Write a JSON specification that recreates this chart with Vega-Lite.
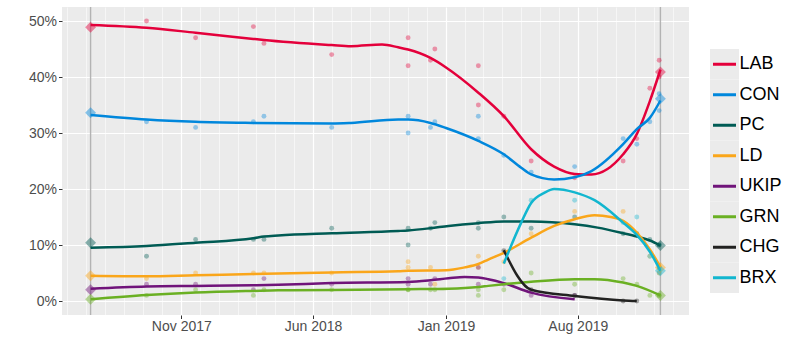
{
  "$schema": "https://vega.github.io/schema/vega-lite/v6.json",
  "autosize": {"type": "pad"},
  "padding": {"left": 28, "top": 6, "right": 5, "bottom": 20},
  "background": "white",
  "spacing": 21,
  "bounds": "flush",
  "config": {"font": "Liberation Sans", "view": {"stroke": null}},
  "datasets": {
    "parties": [{"party":"LAB"},{"party":"CON"},{"party":"PC"},{"party":"LD"},{"party":"UKIP"},{"party":"GRN"},{"party":"CHG"},{"party":"BRX"}],
    "elections": [{"date":"2017-06-08"},{"date":"2019-12-12"}],
    "results": [
      {"date":"2017-06-08","party":"LAB","value":48.9},{"date":"2017-06-08","party":"CON","value":33.6},{"date":"2017-06-08","party":"PC","value":10.4},{"date":"2017-06-08","party":"LD","value":4.5},{"date":"2017-06-08","party":"UKIP","value":2.0},{"date":"2017-06-08","party":"GRN","value":0.3},
      {"date":"2019-12-12","party":"LAB","value":40.9},{"date":"2019-12-12","party":"CON","value":36.1},{"date":"2019-12-12","party":"PC","value":9.9},{"date":"2019-12-12","party":"LD","value":6.0},{"date":"2019-12-12","party":"BRX","value":5.4},{"date":"2019-12-12","party":"GRN","value":1.0}
    ],
    "polls": [
      {"date":"2017-09-06","party":"LAB","value":50},{"date":"2017-09-06","party":"CON","value":32},{"date":"2017-09-06","party":"PC","value":8},{"date":"2017-09-06","party":"LD","value":4},{"date":"2017-09-06","party":"UKIP","value":3},{"date":"2017-09-06","party":"GRN","value":1},
      {"date":"2017-11-24","party":"LAB","value":47},{"date":"2017-11-24","party":"CON","value":31},{"date":"2017-11-24","party":"PC","value":11},{"date":"2017-11-24","party":"LD","value":5},{"date":"2017-11-24","party":"UKIP","value":3},{"date":"2017-11-24","party":"GRN","value":2},
      {"date":"2018-02-25","party":"LAB","value":49},{"date":"2018-02-25","party":"CON","value":32},{"date":"2018-02-25","party":"PC","value":11},{"date":"2018-02-25","party":"LD","value":5},{"date":"2018-02-25","party":"UKIP","value":2},{"date":"2018-02-25","party":"GRN","value":1},
      {"date":"2018-03-14","party":"LAB","value":46},{"date":"2018-03-14","party":"CON","value":33},{"date":"2018-03-14","party":"PC","value":11},{"date":"2018-03-14","party":"LD","value":5},{"date":"2018-03-14","party":"UKIP","value":4},{"date":"2018-03-14","party":"GRN","value":2},
      {"date":"2018-07-01","party":"LAB","value":44},{"date":"2018-07-01","party":"CON","value":31},{"date":"2018-07-01","party":"PC","value":13},{"date":"2018-07-01","party":"LD","value":5},{"date":"2018-07-01","party":"UKIP","value":3},{"date":"2018-07-01","party":"GRN","value":2},
      {"date":"2018-11-01","party":"LAB","value":47},{"date":"2018-11-01","party":"CON","value":33},{"date":"2018-11-01","party":"PC","value":13},{"date":"2018-11-01","party":"LD","value":7},{"date":"2018-11-01","party":"UKIP","value":4},{"date":"2018-11-01","party":"GRN","value":2},
      {"date":"2018-11-01","party":"LAB","value":42},{"date":"2018-11-01","party":"CON","value":30},{"date":"2018-11-01","party":"PC","value":10},{"date":"2018-11-01","party":"LD","value":6},{"date":"2018-11-01","party":"UKIP","value":3},{"date":"2018-11-01","party":"GRN","value":2},
      {"date":"2018-12-07","party":"LAB","value":43},{"date":"2018-12-07","party":"CON","value":31},{"date":"2018-12-07","party":"PC","value":13},{"date":"2018-12-07","party":"LD","value":6},{"date":"2018-12-07","party":"UKIP","value":3},{"date":"2018-12-07","party":"GRN","value":2},
      {"date":"2018-12-14","party":"LAB","value":45},{"date":"2018-12-14","party":"CON","value":32},{"date":"2018-12-14","party":"PC","value":14},{"date":"2018-12-14","party":"LD","value":3},{"date":"2018-12-14","party":"UKIP","value":4},{"date":"2018-12-14","party":"GRN","value":2},
      {"date":"2019-02-22","party":"LAB","value":42},{"date":"2019-02-22","party":"CON","value":33},{"date":"2019-02-22","party":"PC","value":14},{"date":"2019-02-22","party":"LD","value":8},{"date":"2019-02-22","party":"UKIP","value":3},{"date":"2019-02-22","party":"GRN","value":1},
      {"date":"2019-02-22","party":"LAB","value":35},{"date":"2019-02-22","party":"CON","value":29},{"date":"2019-02-22","party":"PC","value":13},{"date":"2019-02-22","party":"LD","value":6},{"date":"2019-02-22","party":"UKIP","value":6},{"date":"2019-02-22","party":"GRN","value":2},
      {"date":"2019-04-04","party":"LAB","value":33},{"date":"2019-04-04","party":"CON","value":26},{"date":"2019-04-04","party":"PC","value":15},{"date":"2019-04-04","party":"LD","value":7},{"date":"2019-04-04","party":"UKIP","value":3},{"date":"2019-04-04","party":"GRN","value":2},{"date":"2019-04-04","party":"CHG","value":9},{"date":"2019-04-04","party":"BRX","value":4},
      {"date":"2019-05-18","party":"LAB","value":25},{"date":"2019-05-18","party":"CON","value":23},{"date":"2019-05-18","party":"PC","value":13},{"date":"2019-05-18","party":"LD","value":12},{"date":"2019-05-18","party":"UKIP","value":1},{"date":"2019-05-18","party":"GRN","value":5},{"date":"2019-05-18","party":"CHG","value":2},{"date":"2019-05-18","party":"BRX","value":18},
      {"date":"2019-07-27","party":"LAB","value":22},{"date":"2019-07-27","party":"CON","value":24},{"date":"2019-07-27","party":"PC","value":15},{"date":"2019-07-27","party":"LD","value":16},{"date":"2019-07-27","party":"UKIP","value":1},{"date":"2019-07-27","party":"GRN","value":3},{"date":"2019-07-27","party":"CHG","value":1},{"date":"2019-07-27","party":"BRX","value":18},
      {"date":"2019-10-13","party":"LAB","value":25},{"date":"2019-10-13","party":"CON","value":29},{"date":"2019-10-13","party":"PC","value":12},{"date":"2019-10-13","party":"LD","value":16},{"date":"2019-10-13","party":"GRN","value":4},{"date":"2019-10-13","party":"CHG","value":0},{"date":"2019-10-13","party":"BRX","value":14},
      {"date":"2019-11-04","party":"LAB","value":29},{"date":"2019-11-04","party":"CON","value":28},{"date":"2019-11-04","party":"PC","value":12},{"date":"2019-11-04","party":"LD","value":12},{"date":"2019-11-04","party":"GRN","value":3},{"date":"2019-11-04","party":"CHG","value":0},{"date":"2019-11-04","party":"BRX","value":15},
      {"date":"2019-11-25","party":"LAB","value":38},{"date":"2019-11-25","party":"CON","value":32},{"date":"2019-11-25","party":"PC","value":11},{"date":"2019-11-25","party":"LD","value":8},{"date":"2019-11-25","party":"GRN","value":1},{"date":"2019-11-25","party":"BRX","value":8},
      {"date":"2019-12-10","party":"LAB","value":43},{"date":"2019-12-10","party":"CON","value":34},{"date":"2019-12-10","party":"PC","value":10},{"date":"2019-12-10","party":"LD","value":6},{"date":"2019-12-10","party":"GRN","value":1},{"date":"2019-12-10","party":"BRX","value":5},
      {"date":"2019-12-10","party":"LAB","value":40},{"date":"2019-12-10","party":"CON","value":37},{"date":"2019-12-10","party":"PC","value":10},{"date":"2019-12-10","party":"LD","value":5},{"date":"2019-12-10","party":"GRN","value":1},{"date":"2019-12-10","party":"BRX","value":6}
    ],
    "trends": [
      {"party":"LAB","date":"2017-06-08","value":49.3},{"party":"LAB","date":"2017-09-06","value":48.8},{"party":"LAB","date":"2017-11-24","value":47.9},{"party":"LAB","date":"2018-02-25","value":46.8},{"party":"LAB","date":"2018-03-14","value":46.6},{"party":"LAB","date":"2018-07-01","value":45.7},{"party":"LAB","date":"2018-08-01","value":45.5},{"party":"LAB","date":"2018-09-20","value":45.8},{"party":"LAB","date":"2018-10-16","value":45.3},{"party":"LAB","date":"2018-11-01","value":44.9},{"party":"LAB","date":"2018-12-07","value":43.4},{"party":"LAB","date":"2019-01-01","value":41.7},{"party":"LAB","date":"2019-02-22","value":37.2},{"party":"LAB","date":"2019-04-04","value":33.0},{"party":"LAB","date":"2019-05-18","value":27.1},{"party":"LAB","date":"2019-06-24","value":24.0},{"party":"LAB","date":"2019-07-27","value":22.7},{"party":"LAB","date":"2019-08-23","value":22.6},{"party":"LAB","date":"2019-10-13","value":26.2},{"party":"LAB","date":"2019-11-04","value":29.8},{"party":"LAB","date":"2019-11-25","value":35.7},{"party":"LAB","date":"2019-12-12","value":41.3},
      {"party":"CON","date":"2017-06-08","value":33.2},{"party":"CON","date":"2017-09-06","value":32.4},{"party":"CON","date":"2017-11-24","value":32.0},{"party":"CON","date":"2018-02-25","value":31.8},{"party":"CON","date":"2018-07-01","value":31.7},{"party":"CON","date":"2018-08-01","value":31.8},{"party":"CON","date":"2018-10-16","value":32.4},{"party":"CON","date":"2018-11-01","value":32.4},{"party":"CON","date":"2018-12-07","value":31.8},{"party":"CON","date":"2019-01-01","value":30.9},{"party":"CON","date":"2019-02-22","value":28.6},{"party":"CON","date":"2019-04-04","value":26.2},{"party":"CON","date":"2019-05-02","value":23.8},{"party":"CON","date":"2019-05-18","value":22.6},{"party":"CON","date":"2019-06-24","value":21.7},{"party":"CON","date":"2019-07-27","value":22.1},{"party":"CON","date":"2019-08-23","value":23.2},{"party":"CON","date":"2019-10-13","value":28.0},{"party":"CON","date":"2019-11-04","value":30.7},{"party":"CON","date":"2019-11-25","value":32.7},{"party":"CON","date":"2019-12-12","value":35.8},
      {"party":"PC","date":"2017-06-08","value":9.5},{"party":"PC","date":"2017-09-06","value":9.8},{"party":"PC","date":"2017-11-24","value":10.4},{"party":"PC","date":"2018-02-25","value":11.2},{"party":"PC","date":"2018-03-14","value":11.5},{"party":"PC","date":"2018-04-06","value":11.7},{"party":"PC","date":"2018-07-01","value":12.1},{"party":"PC","date":"2018-10-16","value":12.5},{"party":"PC","date":"2018-11-01","value":12.6},{"party":"PC","date":"2018-12-07","value":13.0},{"party":"PC","date":"2019-01-05","value":13.4},{"party":"PC","date":"2019-02-22","value":13.9},{"party":"PC","date":"2019-04-04","value":14.2},{"party":"PC","date":"2019-05-18","value":14.2},{"party":"PC","date":"2019-07-27","value":13.7},{"party":"PC","date":"2019-09-02","value":13.1},{"party":"PC","date":"2019-10-13","value":12.1},{"party":"PC","date":"2019-11-04","value":11.5},{"party":"PC","date":"2019-11-25","value":10.8},{"party":"PC","date":"2019-12-12","value":9.9},
      {"party":"LD","date":"2017-06-08","value":4.5},{"party":"LD","date":"2017-09-06","value":4.4},{"party":"LD","date":"2017-11-24","value":4.6},{"party":"LD","date":"2018-02-25","value":4.8},{"party":"LD","date":"2018-04-06","value":4.9},{"party":"LD","date":"2018-07-01","value":5.1},{"party":"LD","date":"2018-10-16","value":5.3},{"party":"LD","date":"2018-11-01","value":5.4},{"party":"LD","date":"2019-01-01","value":5.5},{"party":"LD","date":"2019-01-31","value":6.0},{"party":"LD","date":"2019-02-22","value":6.6},{"party":"LD","date":"2019-03-10","value":7.4},{"party":"LD","date":"2019-04-04","value":8.6},{"party":"LD","date":"2019-05-18","value":11.3},{"party":"LD","date":"2019-06-24","value":13.4},{"party":"LD","date":"2019-07-27","value":14.6},{"party":"LD","date":"2019-08-28","value":15.3},{"party":"LD","date":"2019-09-23","value":15.0},{"party":"LD","date":"2019-10-13","value":14.3},{"party":"LD","date":"2019-11-04","value":12.2},{"party":"LD","date":"2019-11-25","value":9.2},{"party":"LD","date":"2019-12-12","value":6.1},
      {"party":"UKIP","date":"2017-06-08","value":2.2},{"party":"UKIP","date":"2017-09-06","value":2.6},{"party":"UKIP","date":"2017-11-24","value":2.7},{"party":"UKIP","date":"2018-02-25","value":2.8},{"party":"UKIP","date":"2018-04-06","value":2.9},{"party":"UKIP","date":"2018-07-01","value":3.2},{"party":"UKIP","date":"2018-11-01","value":3.4},{"party":"UKIP","date":"2018-12-07","value":3.7},{"party":"UKIP","date":"2019-01-05","value":4.05},{"party":"UKIP","date":"2019-01-31","value":4.3},{"party":"UKIP","date":"2019-02-22","value":4.2},{"party":"UKIP","date":"2019-03-10","value":3.9},{"party":"UKIP","date":"2019-04-04","value":3.2},{"party":"UKIP","date":"2019-05-18","value":1.5},{"party":"UKIP","date":"2019-07-27","value":0.3},
      {"party":"GRN","date":"2017-06-08","value":0.3},{"party":"GRN","date":"2017-09-06","value":1.05},{"party":"GRN","date":"2017-11-24","value":1.5},{"party":"GRN","date":"2018-02-25","value":1.8},{"party":"GRN","date":"2018-04-06","value":1.9},{"party":"GRN","date":"2018-07-01","value":1.95},{"party":"GRN","date":"2018-11-01","value":2.1},{"party":"GRN","date":"2019-01-05","value":2.2},{"party":"GRN","date":"2019-02-22","value":2.5},{"party":"GRN","date":"2019-03-10","value":2.7},{"party":"GRN","date":"2019-04-04","value":3.0},{"party":"GRN","date":"2019-05-18","value":3.45},{"party":"GRN","date":"2019-07-27","value":3.9},{"party":"GRN","date":"2019-08-28","value":3.9},{"party":"GRN","date":"2019-10-13","value":3.3},{"party":"GRN","date":"2019-11-04","value":2.7},{"party":"GRN","date":"2019-12-12","value":1.0},
      {"party":"CHG","date":"2019-04-04","value":9.05},{"party":"CHG","date":"2019-05-18","value":2.0},{"party":"CHG","date":"2019-07-27","value":0.9},{"party":"CHG","date":"2019-10-13","value":0.1},{"party":"CHG","date":"2019-11-04","value":0.0},
      {"party":"BRX","date":"2019-04-04","value":6.7},{"party":"BRX","date":"2019-05-02","value":14.0},{"party":"BRX","date":"2019-05-18","value":17.5},{"party":"BRX","date":"2019-06-08","value":19.3},{"party":"BRX","date":"2019-06-24","value":20.0},{"party":"BRX","date":"2019-07-27","value":19.4},{"party":"BRX","date":"2019-08-28","value":18.0},{"party":"BRX","date":"2019-10-13","value":14.0},{"party":"BRX","date":"2019-11-04","value":11.8},{"party":"BRX","date":"2019-11-25","value":8.8},{"party":"BRX","date":"2019-12-12","value":5.4}
    ]
  },
  "hconcat": [
    {
      "width": 627,
      "height": 308,
      "view": {"fill": "#ebebeb", "stroke": null},
      "layer": [
        {
          "data": {"name": "elections"},
          "mark": {"type": "rule", "color": "#b3b3b3", "strokeWidth": 1.4},
          "encoding": {
            "x": {
              "field": "date", "type": "temporal",
              "scale": {"type": "utc", "domain": [{"year": 2017, "month": 4, "date": 23, "utc": true}, {"year": 2020, "month": 1, "date": 27, "utc": true}], "nice": false},
              "axis": {
                "title": null, "domain": false,
                "tickCount": {"interval": "month", "step": 1},
                "labelExpr": "(utcyear(datum.value)*12+utcmonth(datum.value)-24214)%7==0 ? utcFormat(datum.value,'%b %Y') : ''",
                "labelOverlap": false, "labelFlush": false, "labelBound": false,
                "gridColor": "white",
                "gridWidth": {"condition": {"test": "(utcyear(datum.value)*12+utcmonth(datum.value)-24214)%7==0", "value": 1.2}, "value": 0.55},
                "tickOpacity": {"condition": {"test": "(utcyear(datum.value)*12+utcmonth(datum.value)-24214)%7==0", "value": 1}, "value": 0},
                "tickColor": "#333333", "tickSize": 3.5, "tickWidth": 1,
                "labelColor": "#4d4d4d", "labelFontSize": 14, "labelPadding": 1, "labelFont": "Liberation Sans"
              }
            }
          }
        },
        {
          "data": {"name": "polls"},
          "mark": {"type": "circle", "size": 24, "opacity": 0.38},
          "encoding": {
            "x": {"field": "date", "type": "temporal"},
            "y": {
              "field": "value", "type": "quantitative",
              "scale": {"domain": [-2.5, 52.5], "nice": false, "zero": false},
              "axis": {
                "title": null, "domain": false,
                "values": [0, 5, 10, 15, 20, 25, 30, 35, 40, 45, 50],
                "labelExpr": "datum.value % 10 == 0 ? datum.value + '%' : ''",
                "gridColor": "white",
                "gridWidth": {"condition": {"test": "datum.value % 10 == 0", "value": 1.2}, "value": 0.55},
                "tickOpacity": {"condition": {"test": "datum.value % 10 == 0", "value": 1}, "value": 0},
                "tickColor": "#333333", "tickSize": 3.5, "tickWidth": 1,
                "labelColor": "#4d4d4d", "labelFontSize": 14, "labelPadding": 2, "labelFont": "Liberation Sans"
              }
            },
            "color": {
              "field": "party", "type": "nominal",
              "scale": {"domain": ["LAB", "CON", "PC", "LD", "UKIP", "GRN", "CHG", "BRX"], "range": ["#E4003B", "#0087DC", "#005B54", "#FAA61A", "#70147A", "#6AB023", "#222221", "#12B6CF"]},
              "legend": null
            }
          }
        },
        {
          "data": {"name": "results"},
          "mark": {"type": "point", "shape": "diamond", "filled": true, "size": 120, "opacity": 0.45},
          "encoding": {
            "x": {"field": "date", "type": "temporal"},
            "y": {"field": "value", "type": "quantitative"},
            "color": {"field": "party", "type": "nominal", "legend": null}
          }
        },
        {
          "data": {"name": "trends"},
          "mark": {"type": "line", "strokeWidth": 2.5, "interpolate": "monotone"},
          "encoding": {
            "x": {"field": "date", "type": "temporal"},
            "y": {"field": "value", "type": "quantitative"},
            "color": {"field": "party", "type": "nominal", "legend": null}
          }
        }
      ]
    },
    {
      "width": 29,
      "height": 308,
      "data": {"name": "parties"},
      "layer": [
        {
          "mark": {"type": "rect", "color": "#ebebeb"},
          "encoding": {
            "y": {"field": "party", "type": "nominal", "sort": null, "scale": {"type": "band", "domain": ["LAB", "CON", "PC", "LD", "UKIP", "GRN", "CHG", "BRX"], "range": [42, 286], "paddingInner": 0, "paddingOuter": 0}, "axis": null}
          }
        },
        {
          "mark": {"type": "point", "shape": "stroke", "size": 529, "strokeWidth": 3, "opacity": 1},
          "encoding": {
            "y": {"field": "party", "type": "nominal", "sort": null},
            "color": {"field": "party", "type": "nominal", "legend": null}
          }
        },
        {
          "mark": {"type": "text", "align": "left", "baseline": "middle", "dx": 15, "fontSize": 18, "font": "Liberation Sans", "color": "black"},
          "encoding": {
            "y": {"field": "party", "type": "nominal", "sort": null},
            "text": {"field": "party", "type": "nominal"}
          }
        }
      ]
    }
  ]
}
